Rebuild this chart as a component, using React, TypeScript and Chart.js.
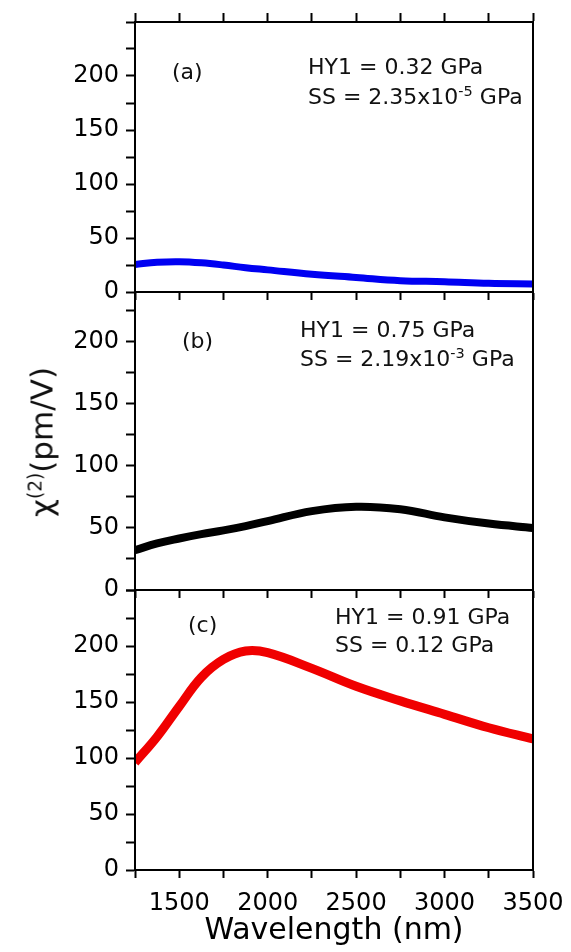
import React, { useEffect, useRef } from 'react';
import { Chart, registerables } from 'chart.js';

Chart.register(...registerables);

// ---- data ----
const wavelengths = [1250, 1375, 1500, 1625, 1750, 1875, 2000, 2250, 2500, 2750, 3000, 3250, 3500];
const chiA = [25.5, 27.5, 28, 27, 25, 22.5, 20.5, 16.5, 13.5, 10.5, 9.5, 8, 7.5];
const chiB = [32, 37.5, 41.5, 45, 48, 51.5, 55.5, 63.5, 67, 65, 58.5, 53.5, 50];
const chiC = [96, 119, 146, 172, 188, 195.5, 194, 180, 164, 151, 139, 127, 117];
const xTickLabels = [1500, 2000, 2500, 3000, 3500];
const yTickLabels = [0, 50, 100, 150, 200];
const panelLabels = ['(a)', '(b)', '(c)'];
const hy1Values = ['0.32', '0.75', '0.91'];
const ssMantissa = ['2.35x10', '2.19x10', '0.12'];
const ssExponent = ['-5', '-3', ''];
const yMaxes = [250, 240, 250];

const FONT = 'DejaVu Sans';
const W = 571;
const H = 952;

type PanelLayout = {
  values: number[];
  color: string;
  lineWidth: number;
  yMax: number;
  padTop: number;
  padBottom: number;
  topAxisH: number;
  bottomAxisH: number;
  showXLabels: boolean;
};

const framePlugin = {
  id: 'frame',
  afterDatasetsDraw(chart: any) {
    const { ctx, chartArea } = chart;
    const { left, top, right, bottom } = chartArea;
    ctx.save();
    ctx.strokeStyle = '#000';
    ctx.lineWidth = 2;
    ctx.strokeRect(left, top, right - left, bottom - top);
    ctx.restore();
  },
};

function Panel(p: PanelLayout) {
  const ref = useRef<HTMLCanvasElement | null>(null);
  useEffect(() => {
    if (!ref.current) return;
    const tickGrid = (len: number) => ({
      display: true,
      drawOnChartArea: false,
      drawTicks: true,
      tickLength: len,
      tickWidth: 2,
      tickColor: '#000',
      color: '#000',
    });
    const scales: any = {
      x: {
        type: 'linear',
        position: 'bottom',
        min: 1250,
        max: 3500,
        afterFit: (s: any) => {
          s.height = p.bottomAxisH;
          s.paddingLeft = 0;
          s.paddingRight = 0;
        },
        grid: tickGrid(8),
        border: { display: true, color: '#000', width: 2 },
        ticks: {
          display: p.showXLabels,
          stepSize: 250,
          autoSkip: false,
          maxRotation: 0,
          minRotation: 0,
          includeBounds: false,
          padding: 11,
          color: '#000',
          font: { family: FONT, size: 24 },
          callback: (v: any) => (xTickLabels.includes(Number(v)) ? String(v) : ''),
        },
        title: p.showXLabels
          ? {
              display: true,
              text: 'Wavelength (nm)',
              color: '#000',
              font: { family: FONT, size: 30 },
              padding: { top: 0, bottom: 3 },
            }
          : { display: false },
      },
      y: {
        type: 'linear',
        position: 'left',
        min: 0,
        max: p.yMax,
        afterFit: (s: any) => {
          s.width = 135;
          s.paddingTop = 0;
          s.paddingBottom = 0;
        },
        grid: tickGrid(9),
        border: { display: true, color: '#000', width: 2 },
        ticks: {
          stepSize: 25,
          autoSkip: false,
          includeBounds: false,
          padding: 7,
          color: '#000',
          font: { family: FONT, size: 24 },
          callback: (v: any) => (yTickLabels.includes(Number(v)) ? String(v) : ''),
        },
      },
    };
    if (p.topAxisH > 0) {
      scales.x2 = {
        type: 'linear',
        position: 'top',
        min: 1250,
        max: 3500,
        afterFit: (s: any) => {
          s.height = p.topAxisH;
          s.paddingLeft = 0;
          s.paddingRight = 0;
        },
        grid: tickGrid(9),
        border: { display: true, color: '#000', width: 2 },
        ticks: { display: false, stepSize: 250, autoSkip: false },
      };
    }
    const chart = new Chart(ref.current, {
      type: 'line',
      data: {
        datasets: [
          {
            data: wavelengths.map((w, i) => ({ x: w, y: p.values[i] })),
            borderColor: p.color,
            backgroundColor: p.color,
            borderWidth: p.lineWidth,
            pointRadius: 0,
            fill: false,
            tension: 0.4,
            borderCapStyle: 'butt',
          } as any,
        ],
      },
      options: {
        animation: false,
        responsive: false,
        maintainAspectRatio: false,
        layout: { autoPadding: false, padding: { top: p.padTop, bottom: p.padBottom, left: 0, right: 38 } },
        plugins: { legend: { display: false }, tooltip: { enabled: false } },
        scales,
      } as any,
      plugins: [framePlugin],
    });
    return () => chart.destroy();
  }, []);
  return (
    <canvas
      ref={ref}
      width={W}
      height={H}
      style={{ position: 'absolute', left: 0, top: 0, width: W, height: H }}
    />
  );
}

const textBase: React.CSSProperties = {
  position: 'absolute',
  fontFamily: FONT,
  fontSize: 22,
  lineHeight: '22px',
  color: '#111',
  whiteSpace: 'nowrap',
};

const annotPos = [
  { lx: 172, ly: 61, ax: 308, ay1: 56, ay2: 86 },
  { lx: 182, ly: 330, ax: 300, ay1: 319, ay2: 348 },
  { lx: 188, ly: 614, ax: 335, ay1: 606, ay2: 634 },
];

export default function App() {
  const layouts: PanelLayout[] = [
    { values: chiA, color: '#0000f2', lineWidth: 7, yMax: yMaxes[0], padTop: 0, padBottom: 640, topAxisH: 22, bottomAxisH: 20, showXLabels: false },
    { values: chiB, color: '#000000', lineWidth: 8, yMax: yMaxes[1], padTop: 292, padBottom: 342, topAxisH: 0, bottomAxisH: 20, showXLabels: false },
    { values: chiC, color: '#f00000', lineWidth: 9, yMax: yMaxes[2], padTop: 590, padBottom: 0, topAxisH: 0, bottomAxisH: 82, showXLabels: true },
  ];
  return (
    <div style={{ position: 'absolute', left: 0, top: 0, width: W, height: H, background: '#fff', overflow: 'hidden' }}>
      {layouts.map((l, i) => (
        <Panel key={i} {...l} />
      ))}
      {annotPos.map((a, i) => (
        <React.Fragment key={i}>
          <div style={{ ...textBase, left: a.lx, top: a.ly }}>{panelLabels[i]}</div>
          <div style={{ ...textBase, left: a.ax, top: a.ay1 }}>HY1 = {hy1Values[i]} GPa</div>
          <div style={{ ...textBase, left: a.ax, top: a.ay2 }}>
            SS = {ssMantissa[i]}
            {ssExponent[i] ? (
              <sup style={{ fontSize: '0.66em', verticalAlign: '0.55em', lineHeight: 0 }}>{ssExponent[i]}</sup>
            ) : null}{' '}
            GPa
          </div>
        </React.Fragment>
      ))}
      <div
        style={{
          position: 'absolute',
          left: 42,
          top: 442,
          transform: 'translate(-50%, -50%) rotate(-90deg)',
          fontFamily: FONT,
          fontSize: 31,
          lineHeight: '31px',
          color: '#111',
          whiteSpace: 'nowrap',
        }}
      >
        χ<sup style={{ fontSize: '0.6em', verticalAlign: '0.6em', lineHeight: 0 }}>(2)</sup>(pm/V)
      </div>
    </div>
  );
}
